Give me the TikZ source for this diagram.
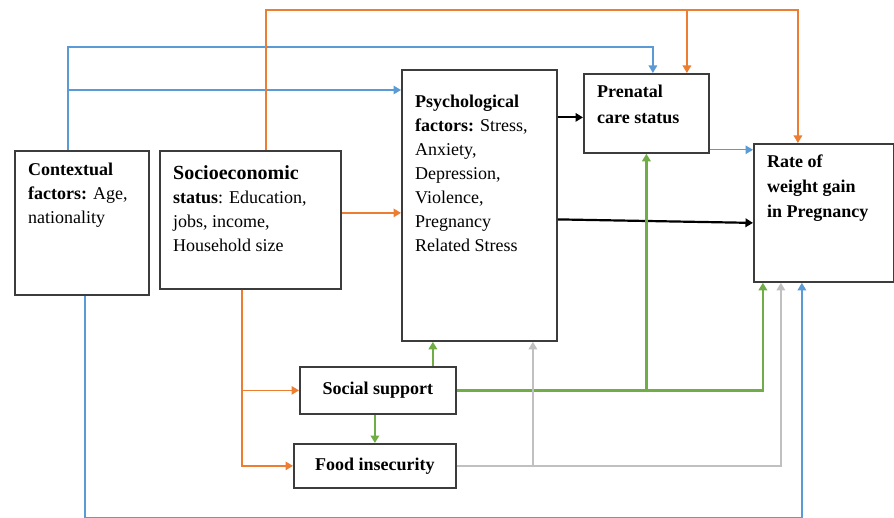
\documentclass[tikz,border=0pt]{standalone}
\usepackage{fontspec}
\setmainfont{Liberation Serif}
\usetikzlibrary{arrows.meta}

\definecolor{lnblue}{RGB}{91,155,213}
\definecolor{lnorange}{RGB}{237,125,49}
\definecolor{lngreen}{RGB}{112,173,71}
\definecolor{lngray}{RGB}{192,192,192}
\definecolor{boxgray}{RGB}{60,60,60}

\tikzset{
  box/.style={draw=boxgray,line width=1.8pt,anchor=north west,inner sep=0pt},
  txt/.style={anchor=north west,align=left,inner sep=0pt,font=\fontsize{18}{24}\selectfont},
  btxt/.style={font=\bfseries\fontsize{18}{24}\selectfont},
  bl/.style={lnblue,line width=1.4pt},
  or/.style={lnorange,line width=1.4pt},
  gn/.style={lngreen,line width=2.2pt},
  gr/.style={lngray,line width=1.4pt},
  bk/.style={black,line width=2.2pt}
}

\begin{document}
\begin{tikzpicture}[x=1pt,y=-1pt,>={Triangle[length=7.5pt,width=8.5pt]}]
  \useasboundingbox (0,0) rectangle (894,518);
  % cajas
  \node[box,minimum width=134pt,minimum height=144pt] (ctx) at (14,150) {};
  \node[box,minimum width=181pt,minimum height=138pt] (ses) at (159,150) {};
  \node[box,minimum width=155pt,minimum height=271pt] (psy) at (401,69) {};
  \node[box,minimum width=125pt,minimum height=79pt] (pnc) at (583,73) {};
  \node[box,minimum width=140pt,minimum height=138pt] (rwg) at (753,143) {};
  \node[box,btxt,minimum width=156pt,minimum height=47pt] (ssp) at (299,366) {Social support};
  \node[box,btxt,minimum width=162pt,minimum height=44pt] (fin) at (293,443) {Food insecurity};
  % textos
  \node[txt] (ctx-t) at (28,163) {\textbf{Contextual}\\\textbf{factors:} Age,\\nationality};
  \node[txt] (ses-t) at (173,165) {{\fontsize{20}{24}\selectfont\textbf{Socioeconomic}}\\\textbf{status}: Education,\\jobs, income,\\Household size};
  \node[txt] (psy-t) at (415,95) {\textbf{Psychological}\\\textbf{factors:} Stress,\\Anxiety,\\Depression,\\Violence,\\Pregnancy\\Related Stress};
  \node[txt,font=\bfseries\fontsize{18}{26}\selectfont] (pnc-t) at (597,85) {Prenatal\\care status};
  \node[txt,font=\bfseries\fontsize{18}{25}\selectfont] (rwg-t) at (767,155) {Rate of\\weight gain\\in Pregnancy};
  % contexto
  \draw[bl,->] ([xshift=-14pt]ctx.north) -- ++(0,-103) -| ([xshift=6.5pt]pnc.north);
  \draw[bl,->] ([xshift=-14pt,yshift=60pt]ctx.north) coordinate (bmid) -- (bmid -| psy.west);
  \draw[bl,->] ([xshift=3pt]ctx.south) -- ++(0,222) -| ([xshift=-22pt]rwg.south);
  % nivel socioeconomico
  \draw[or,->] ([xshift=15.5pt]ses.north) -- ++(0,-140) coordinate (otop) -| ([xshift=-26pt]rwg.north);
  \draw[or,->] ([xshift=40.5pt]pnc.north |- otop) -- ([xshift=40.5pt]pnc.north);
  \draw[or,->] ([yshift=7pt]ses.east) coordinate (o1) -- (o1 -| psy.west);
  \draw[or,->] ([xshift=-8.5pt]ses.south) |- (ssp.west);
  \draw[or,->] ([xshift=-8.5pt]ses.south) |- (fin.west);
  % factores psicologicos
  \coordinate (k1) at ([yshift=-4pt]pnc.west);
  \draw[bk,->] (k1 -| psy.east) -- (k1);
  \draw[bk,->] ([yshift=-14pt]psy.east) -- ([yshift=-10pt]rwg.west);
  \draw[bl,->] ([yshift=4pt]pnc.south east) coordinate (b2) -- (b2 -| rwg.west);
  % apoyo social
  \draw[gn,->] ([xshift=55pt]ssp.north) coordinate (g1) -- (g1 |- psy.south);
  \draw[gn,->] ([xshift=-3pt]ssp.south) coordinate (g2) -- (g2 |- fin.north);
  \draw[gn,->] (ssp.east) -| ([xshift=-61pt]rwg.south);
  \draw[gn,->] (ssp.east -| pnc.south) -- (pnc.south);
  % inseguridad alimentaria
  \coordinate (r1) at ([xshift=53.5pt]psy.south);
  \draw[gr,->] (r1 |- fin.east) -- (r1);
  \draw[gr,->] (fin.east) -| ([xshift=-43pt]rwg.south);
\end{tikzpicture}
\end{document}
